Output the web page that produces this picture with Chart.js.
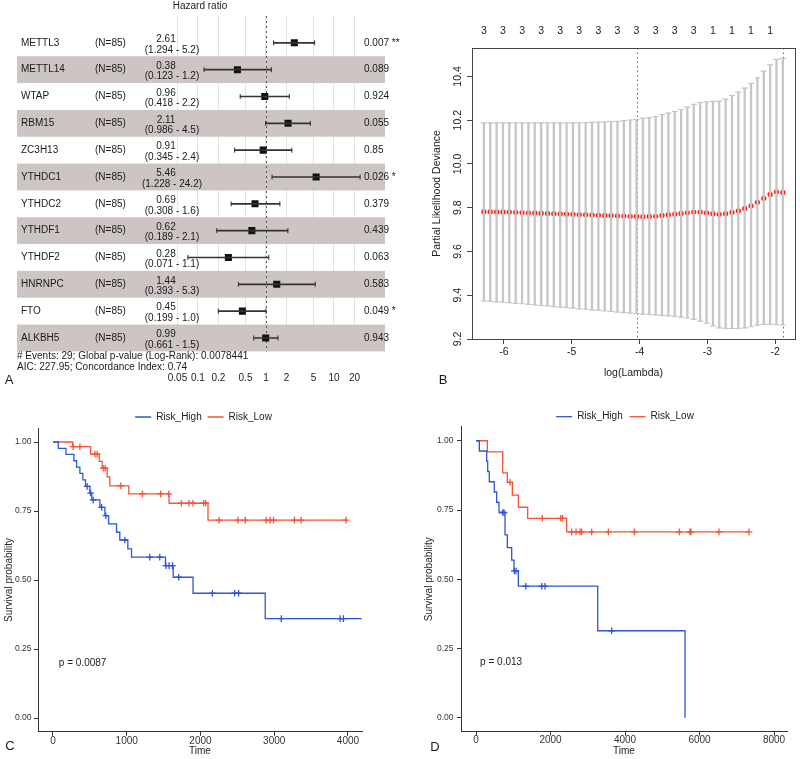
<!DOCTYPE html>
<html lang="en">
<head>
<meta charset="UTF-8">
<title>m6A regulators - Cox, LASSO and survival</title>
<script src="https://cdn.jsdelivr.net/npm/chart.js"></script>
<style>
  body { margin: 0; background: #fff; }
  #fig { position: relative; width: 800px; height: 759px; }
  canvas { position: absolute; }
</style>
</head>
<body>
<div id="fig">
  <canvas id="forest" width="400" height="395" style="left:0;top:0"></canvas>
  <canvas id="lasso" width="400" height="395" style="left:400px;top:0"></canvas>
  <canvas id="kmC" width="400" height="359" style="left:0;top:400px"></canvas>
  <canvas id="kmD" width="400" height="359" style="left:400px;top:400px"></canvas>
</div>
<script>
// ---- A: multivariate Cox forest plot
const genes = ['METTL3','METTL14','WTAP','RBM15','ZC3H13','YTHDC1','YTHDC2','YTHDF1','YTHDF2','HNRNPC','FTO','ALKBH5'];
const nPatients = [85,85,85,85,85,85,85,85,85,85,85,85];
const hazardRatio = [2.61,0.38,0.96,2.11,0.91,5.46,0.69,0.62,0.28,1.44,0.45,0.99];
const ciLow = [1.294,0.123,0.418,0.986,0.345,1.228,0.308,0.189,0.071,0.393,0.199,0.661];
const ciHigh = [5.2,1.2,2.2,4.5,2.4,24.2,1.6,2.1,1.1,5.3,1.0,1.5];
const pValue = [0.007,0.089,0.924,0.055,0.85,0.026,0.379,0.439,0.063,0.583,0.049,0.943];
const hrTicks = [0.05,0.1,0.2,0.5,1,2,5,10,20];
const refHR = 1;
const nEvents = 29, globalP = 0.0078441, aic = 227.95, cIndex = 0.74;

// ---- B: cv.glmnet partial likelihood deviance
const logLambda = [-6.295,-6.201,-6.107,-6.014,-5.920,-5.826,-5.732,-5.639,-5.545,-5.451,
  -5.357,-5.264,-5.170,-5.076,-4.982,-4.889,-4.795,-4.701,-4.607,-4.513,
  -4.420,-4.326,-4.232,-4.138,-4.045,-3.951,-3.857,-3.763,-3.670,-3.576,
  -3.482,-3.388,-3.295,-3.201,-3.107,-3.013,-2.919,-2.826,-2.732,-2.638,
  -2.544,-2.451,-2.357,-2.263,-2.169,-2.076,-1.982,-1.888];
const cvMean = [9.782,9.782,9.781,9.781,9.780,9.779,9.778,9.777,9.776,9.775,
  9.774,9.773,9.772,9.771,9.770,9.769,9.768,9.767,9.766,9.765,
  9.764,9.763,9.762,9.761,9.760,9.759,9.760,9.761,9.765,9.768,
  9.771,9.774,9.777,9.780,9.780,9.777,9.773,9.770,9.773,9.779,
  9.786,9.797,9.809,9.825,9.843,9.861,9.873,9.870];
const cvUpper = [10.188,10.188,10.188,10.188,10.188,10.188,10.188,10.188,10.188,10.188,
  10.188,10.188,10.188,10.188,10.188,10.188,10.189,10.190,10.191,10.192,
  10.193,10.195,10.198,10.201,10.204,10.208,10.212,10.217,10.226,10.232,
  10.240,10.249,10.260,10.272,10.281,10.284,10.286,10.287,10.296,10.313,
  10.328,10.347,10.368,10.394,10.424,10.453,10.478,10.481];
const cvLower = [9.374,9.372,9.370,9.368,9.366,9.363,9.361,9.358,9.356,9.353,
  9.351,9.348,9.346,9.343,9.341,9.338,9.336,9.333,9.331,9.328,
  9.326,9.323,9.321,9.318,9.316,9.314,9.312,9.310,9.308,9.306,
  9.303,9.300,9.296,9.290,9.282,9.272,9.260,9.251,9.249,9.248,
  9.248,9.251,9.256,9.263,9.267,9.268,9.266,9.264];
const nzeroTop = [3,3,3,3,3,3,3,3,3,3,3,3,1,1,1,1];
const lambdaTicks = [-6,-5,-4,-3,-2];
const devianceTicks = [9.2,9.4,9.6,9.8,10.0,10.2,10.4];
const minIdx = 24, seIdx = 47;

// ---- C / D: Kaplan-Meier
const timeHighC = [0,72,176,284,320,365,405,442,500,527,636,704,754,862,906,1015,1065,1525,1630,1899,2878,4185];
const survHighC = [1,0.977,0.955,0.932,0.909,0.886,0.863,0.839,0.815,0.790,0.763,0.733,0.703,0.673,0.645,0.613,0.583,0.552,0.510,0.452,0.360,0.360];
const censTimeHighC = [464,510,545,659,717,974,1313,1448,1530,1575,1620,1705,2161,2463,2517,3095,3893,3938];
const censSurvHighC = [0.839,0.815,0.790,0.763,0.733,0.645,0.583,0.583,0.552,0.552,0.552,0.510,0.452,0.452,0.452,0.360,0.360,0.360];
const timeLowC = [0,267,510,627,667,735,771,1028,1574,2102,3974];
const survLowC = [1,0.983,0.956,0.930,0.905,0.874,0.841,0.812,0.778,0.717,0.717];
const censTimeLowC = [275,365,568,600,681,708,920,1213,1461,1570,1741,1845,1899,2043,2070,2251,2508,2607,2891,2945,2990,3274,3365,3974];
const censSurvLowC = [0.983,0.983,0.956,0.956,0.905,0.905,0.841,0.812,0.812,0.812,0.778,0.778,0.778,0.778,0.778,0.717,0.717,0.717,0.717,0.717,0.717,0.717,0.717,0.717];

const timeHighD = [0,89,287,314,357,491,555,617,779,841,958,1020,1136,3267,5611];
const survHighD = [1,0.963,0.926,0.889,0.852,0.815,0.778,0.741,0.660,0.614,0.569,0.530,0.475,0.314,0];
const censTimeHighD = [717,752,1028,1074,1334,1764,1852,3643];
const censSurvHighD = [0.741,0.741,0.530,0.530,0.475,0.475,0.475,0.314];
const timeLowD = [0,305,716,841,975,1137,1387,2434,7329];
const survLowD = [1,0.960,0.884,0.850,0.804,0.760,0.720,0.671,0.671];
const censTimeLowD = [913,1781,2275,2318,2568,2685,2792,2837,3105,3553,4250,5458,5745,5772,6523,7329];
const censSurvLowD = [0.850,0.720,0.720,0.720,0.671,0.671,0.671,0.671,0.671,0.671,0.671,0.671,0.671,0.671,0.671,0.671];

const timeTicksC = [0,1000,2000,3000,4000];
const timeTicksD = [0,2000,4000,6000,8000];
const survTicks = [0,0.25,0.5,0.75,1];

const FONT = '"Liberation Sans", Arial, sans-serif';
Chart.defaults.font.family = FONT;
Chart.defaults.color = '#222';
Chart.defaults.animation = false;

const blue = '#2f55d4';
const red = '#f2553a';

// ================= A =================
const rowIdx = genes.map((g, i) => i);

const forestDecor = {
  id: 'forestDecor',
  beforeDatasetsDraw(chart) {
    const {ctx, chartArea, scales: {x, y}} = chart;
    ctx.save();
    ctx.fillStyle = '#ccc5c3';
    rowIdx.forEach(i => {
      if (i % 2 === 0) return;
      const t = y.getPixelForValue(i - 0.5);
      const b = y.getPixelForValue(i + 0.5);
      ctx.fillRect(17, t, 368, b - t);
    });
    const xr = Math.round(x.getPixelForValue(refHR)) + 0.5;
    ctx.strokeStyle = '#555';
    ctx.lineWidth = 1;
    ctx.setLineDash([2, 3]);
    ctx.beginPath();
    ctx.moveTo(xr, chartArea.top);
    ctx.lineTo(xr, chartArea.bottom);
    ctx.stroke();
    ctx.restore();
  },
  afterDatasetsDraw(chart) {
    const {ctx, scales: {y}} = chart;
    ctx.save();
    ctx.fillStyle = '#1a1a1a';
    ctx.textBaseline = 'middle';
    ctx.font = '10px ' + FONT;
    genes.forEach((g, i) => {
      const py = y.getPixelForValue(i);
      const stars = pValue[i] < 0.01 ? ' **' : pValue[i] < 0.05 ? ' *' : '';
      ctx.textAlign = 'left';
      ctx.fillText(g, 21, py);
      ctx.fillText('(N=' + nPatients[i] + ')', 95, py);
      ctx.fillText(String(pValue[i]) + stars, 364, py);
      ctx.textAlign = 'center';
      ctx.fillText(hazardRatio[i].toFixed(2), 166, py - 3.5);
      ctx.fillText('(' + ciLow[i].toFixed(3) + ' - ' + ciHigh[i].toFixed(1) + ')', 172, py + 7);
    });
    ctx.textAlign = 'left';
    ctx.fillText('# Events: ' + nEvents + '; Global p-value (Log-Rank): ' + globalP, 17, 356);
    ctx.fillText('AIC: ' + aic + '; Concordance Index: ' + cIndex, 17, 367);
    ctx.font = '13px ' + FONT;
    ctx.textAlign = 'center';
    ctx.fillText('A', 9, 380);
    ctx.restore();
  }
};

new Chart(document.getElementById('forest'), {
  type: 'scatter',
  data: {
    datasets: [
      { type: 'bar', indexAxis: 'y', grouped: false, barThickness: 1,
        data: rowIdx.map(i => ({ y: i, x: [ciLow[i], ciHigh[i]] })),
        backgroundColor: '#333' },
      { data: rowIdx.map(i => ({ x: ciLow[i], y: i })),
        pointStyle: 'line', rotation: 90, radius: 2.5, borderColor: '#333', borderWidth: 1 },
      { data: rowIdx.map(i => ({ x: ciHigh[i], y: i })),
        pointStyle: 'line', rotation: 90, radius: 2.5, borderColor: '#333', borderWidth: 1 },
      { data: rowIdx.map(i => ({ x: hazardRatio[i], y: i })),
        pointStyle: 'rect', radius: 5, backgroundColor: '#111', borderColor: '#111', borderWidth: 0 }
    ]
  },
  options: {
    responsive: false,
    layout: { padding: 0 },
    plugins: {
      legend: { display: false },
      tooltip: { enabled: false },
      title: { display: true, text: 'Hazard ratio', color: '#222',
               font: { size: 10, weight: 'normal' }, padding: { top: 0, bottom: 4 } }
    },
    scales: {
      x: {
        type: 'logarithmic', position: 'bottom', min: 0.05, max: 26, offset: false,
        afterBuildTicks: s => { s.ticks = hrTicks.map(v => ({ value: v })); },
        afterFit: s => { s.height = 43.6; },
        ticks: { autoSkip: false, maxRotation: 0, padding: 20.6, color: '#222',
                 font: { size: 10 }, callback: v => String(v) },
        grid: { color: '#e3e3e3', drawTicks: false, offset: false },
        border: { display: false }
      },
      y: {
        type: 'linear', min: -1, max: 11.5, reverse: true, offset: false,
        afterFit: s => { s.width = 177.5; },
        ticks: { display: false }, grid: { display: false, offset: false }, border: { display: false }
      },
      yRight: {
        type: 'linear', position: 'right',
        afterFit: s => { s.width = 37.8; },
        ticks: { display: false }, grid: { display: false }, border: { display: false }
      }
    }
  },
  plugins: [forestDecor]
});

// ================= B =================
const topLambda = logLambda.filter((v, i) => i % 3 === 0);

const lassoDecor = {
  id: 'lassoDecor',
  beforeDatasetsDraw(chart) {
    const {ctx, chartArea, scales: {x}} = chart;
    ctx.save();
    ctx.strokeStyle = '#666';
    ctx.lineWidth = 1;
    ctx.setLineDash([1.5, 3]);
    [minIdx, seIdx].forEach(k => {
      const px = Math.round(x.getPixelForValue(logLambda[k])) + 0.5;
      ctx.beginPath();
      ctx.moveTo(px, chartArea.top);
      ctx.lineTo(px, chartArea.bottom);
      ctx.stroke();
    });
    ctx.restore();
  },
  afterDraw(chart) {
    const {ctx, chartArea} = chart;
    ctx.save();
    ctx.strokeStyle = '#444';
    ctx.lineWidth = 1;
    ctx.strokeRect(Math.round(chartArea.left) + 0.5, Math.round(chartArea.top) + 0.5,
                   Math.round(chartArea.right - chartArea.left), Math.round(chartArea.bottom - chartArea.top));
    ctx.fillStyle = '#1a1a1a';
    ctx.font = '13px ' + FONT;
    ctx.textAlign = 'center';
    ctx.textBaseline = 'middle';
    ctx.fillText('B', 43, 380);
    ctx.restore();
  }
};

new Chart(document.getElementById('lasso'), {
  type: 'scatter',
  data: {
    datasets: [
      { type: 'bar', grouped: false, barThickness: 1.6,
        data: logLambda.map((v, i) => ({ x: v, y: [cvLower[i], cvUpper[i]] })),
        backgroundColor: '#c6c6c6' },
      { data: logLambda.map((v, i) => ({ x: v, y: cvUpper[i] })),
        pointStyle: 'line', radius: 3, borderColor: '#c6c6c6', borderWidth: 1.2 },
      { data: logLambda.map((v, i) => ({ x: v, y: cvLower[i] })),
        pointStyle: 'line', radius: 3, borderColor: '#c6c6c6', borderWidth: 1.2 },
      { data: logLambda.map((v, i) => ({ x: v, y: cvMean[i] })),
        pointStyle: 'circle', radius: 2.6, backgroundColor: '#ff1a10', borderColor: '#ff1a10', borderWidth: 0 }
    ]
  },
  options: {
    responsive: false,
    layout: { padding: { left: 31, right: 3, top: 0, bottom: 15.7 } },
    plugins: { legend: { display: false }, tooltip: { enabled: false } },
    scales: {
      x: {
        type: 'linear', position: 'bottom', min: -6.47, max: -1.712, offset: false,
        afterBuildTicks: s => { s.ticks = lambdaTicks.map(v => ({ value: v })); },
        afterFit: s => { s.height = 40.3; },
        ticks: { autoSkip: false, maxRotation: 0, padding: 2.2, color: '#222',
                 font: { size: 10.5 }, callback: v => String(v) },
        grid: { drawOnChartArea: false, drawTicks: true, tickLength: 5, tickColor: '#444', tickWidth: 1, offset: false },
        border: { display: false },
        title: { display: true, text: 'log(Lambda)', color: '#222', font: { size: 10.5 }, padding: 0 }
      },
      xTop: {
        type: 'linear', position: 'top', min: -6.47, max: -1.712, offset: false,
        afterBuildTicks: s => { s.ticks = topLambda.map(v => ({ value: v })); },
        afterFit: s => { s.height = 48; },
        ticks: { autoSkip: false, maxRotation: 0, padding: 10.7, color: '#222',
                 font: { size: 10.5 }, callback: (v, i) => String(nzeroTop[i]) },
        grid: { display: false, drawTicks: false },
        border: { display: false }
      },
      y: {
        type: 'linear', min: 9.2, max: 10.53,
        afterBuildTicks: s => { s.ticks = devianceTicks.map(v => ({ value: v })); },
        afterFit: s => { s.width = 41; },
        ticks: { autoSkip: false, minRotation: 90, maxRotation: 90, crossAlign: 'center',
                 padding: -1, color: '#222', font: { size: 10.5 }, callback: v => v.toFixed(1) },
        grid: { drawOnChartArea: false, drawTicks: true, tickLength: 5, tickColor: '#444', tickWidth: 1 },
        border: { display: false },
        title: { display: true, text: 'Partial Likelihood Deviance', color: '#222',
                 font: { size: 10.5 }, padding: 0 }
      }
    }
  },
  plugins: [lassoDecor]
});

// ================= C / D =================
function kmChart(id, p) {
  const annot = {
    id: 'kmAnnot' + p.panel,
    afterDraw(chart) {
      const {ctx, scales: {x, y}} = chart;
      ctx.save();
      ctx.fillStyle = '#222';
      ctx.font = '10px ' + FONT;
      ctx.textAlign = 'left';
      ctx.textBaseline = 'middle';
      ctx.fillText('p = ' + p.pval, x.getPixelForValue(p.pvalX), y.getPixelForValue(p.pvalY));
      ctx.font = '13px ' + FONT;
      ctx.textAlign = 'center';
      ctx.fillText(p.panel, p.panelX, p.panelY);
      ctx.restore();
    }
  };
  return new Chart(document.getElementById(id), {
    type: 'line',
    data: {
      datasets: [
        { label: 'Risk_High', data: p.tHigh.map((t, i) => ({ x: t, y: p.sHigh[i] })),
          stepped: true, borderColor: blue, backgroundColor: blue, borderWidth: 1.3, pointRadius: 0, fill: false },
        { label: 'Risk_Low', data: p.tLow.map((t, i) => ({ x: t, y: p.sLow[i] })),
          stepped: true, borderColor: red, backgroundColor: red, borderWidth: 1.3, pointRadius: 0, fill: false },
        { label: 'High censored', type: 'scatter', showLine: false,
          data: p.cTHigh.map((t, i) => ({ x: t, y: p.cSHigh[i] })),
          pointStyle: 'cross', radius: 3.3, borderColor: blue, borderWidth: 1.3 },
        { label: 'Low censored', type: 'scatter', showLine: false,
          data: p.cTLow.map((t, i) => ({ x: t, y: p.cSLow[i] })),
          pointStyle: 'cross', radius: 3.3, borderColor: red, borderWidth: 1.3 }
      ]
    },
    options: {
      responsive: false,
      layout: { padding: { left: p.padLeft, right: p.padRight, top: p.legendTop, bottom: 1.3 } },
      plugins: {
        tooltip: { enabled: false },
        legend: {
          position: 'top', maxHeight: 22,
          labels: { filter: it => it.datasetIndex < 2, usePointStyle: true, pointStyle: 'line',
                    pointStyleWidth: 16, padding: p.legendPad, color: '#222', font: { size: 10 } }
        }
      },
      scales: {
        x: {
          type: 'linear', min: p.xMin, max: p.xMax,
          afterBuildTicks: s => { s.ticks = p.xTicks.map(v => ({ value: v })); },
          afterFit: s => { s.height = p.xAxisH; },
          ticks: { autoSkip: false, maxRotation: 0, padding: -1, color: '#333',
                   font: { size: 10 }, callback: v => String(v) },
          grid: { drawOnChartArea: false, drawTicks: true, tickLength: 4, tickColor: '#333' },
          border: { display: true, color: '#333', width: 1 },
          title: { display: true, text: 'Time', color: '#222', font: { size: 10 }, padding: 0 }
        },
        y: {
          type: 'linear', min: -0.05, max: 1.05,
          afterBuildTicks: s => { s.ticks = survTicks.map(v => ({ value: v })); },
          afterFit: s => { s.width = p.yAxisW; },
          ticks: { autoSkip: false, padding: p.yTickPad, color: '#333',
                   font: { size: 8.5 }, callback: v => v.toFixed(2) },
          grid: { drawOnChartArea: false, drawTicks: true, tickLength: 4, tickColor: '#333' },
          border: { display: true, color: '#333', width: 1 },
          title: { display: true, text: 'Survival probability', color: '#222', font: { size: 10 },
                   padding: { top: p.yTitlePad, bottom: 0 } }
        },
        yRight: {
          type: 'linear', position: 'right',
          afterFit: s => { s.width = p.rightW; },
          ticks: { display: false }, grid: { display: false }, border: { display: false }
        }
      }
    },
    plugins: [annot]
  });
}

kmChart('kmC', {
  tHigh: timeHighC, sHigh: survHighC, tLow: timeLowC, sLow: survLowC,
  cTHigh: censTimeHighC, cSHigh: censSurvHighC, cTLow: censTimeLowC, cSLow: censSurvLowC,
  xMin: -203, xMax: 4190, xTicks: timeTicksC,
  padLeft: 7, padRight: 0, yAxisW: 31, yTitlePad: -4, yTickPad: 2.5, rightW: 38,
  legendTop: 6.2, legendPad: 5.8, xAxisH: 25.9,
  pval: '0.0087', pvalX: 80, pvalY: 0.2, panel: 'C', panelX: 10, panelY: 346
});

kmChart('kmD', {
  tHigh: timeHighD, sHigh: survHighD, tLow: timeLowD, sLow: survLowD,
  cTHigh: censTimeHighD, cSHigh: censSurvHighD, cTLow: censTimeLowD, cSLow: censSurvLowD,
  xMin: -403, xMax: 8349, xTicks: timeTicksD,
  padLeft: 23, padRight: -27, yAxisW: 38, yTitlePad: 0, yTickPad: 3.5, rightW: 40,
  legendTop: 4.9, legendPad: 6.8, xAxisH: 26.1,
  pval: '0.013', pvalX: 110, pvalY: 0.2, panel: 'D', panelX: 35, panelY: 347
});
</script>
</body>
</html>
